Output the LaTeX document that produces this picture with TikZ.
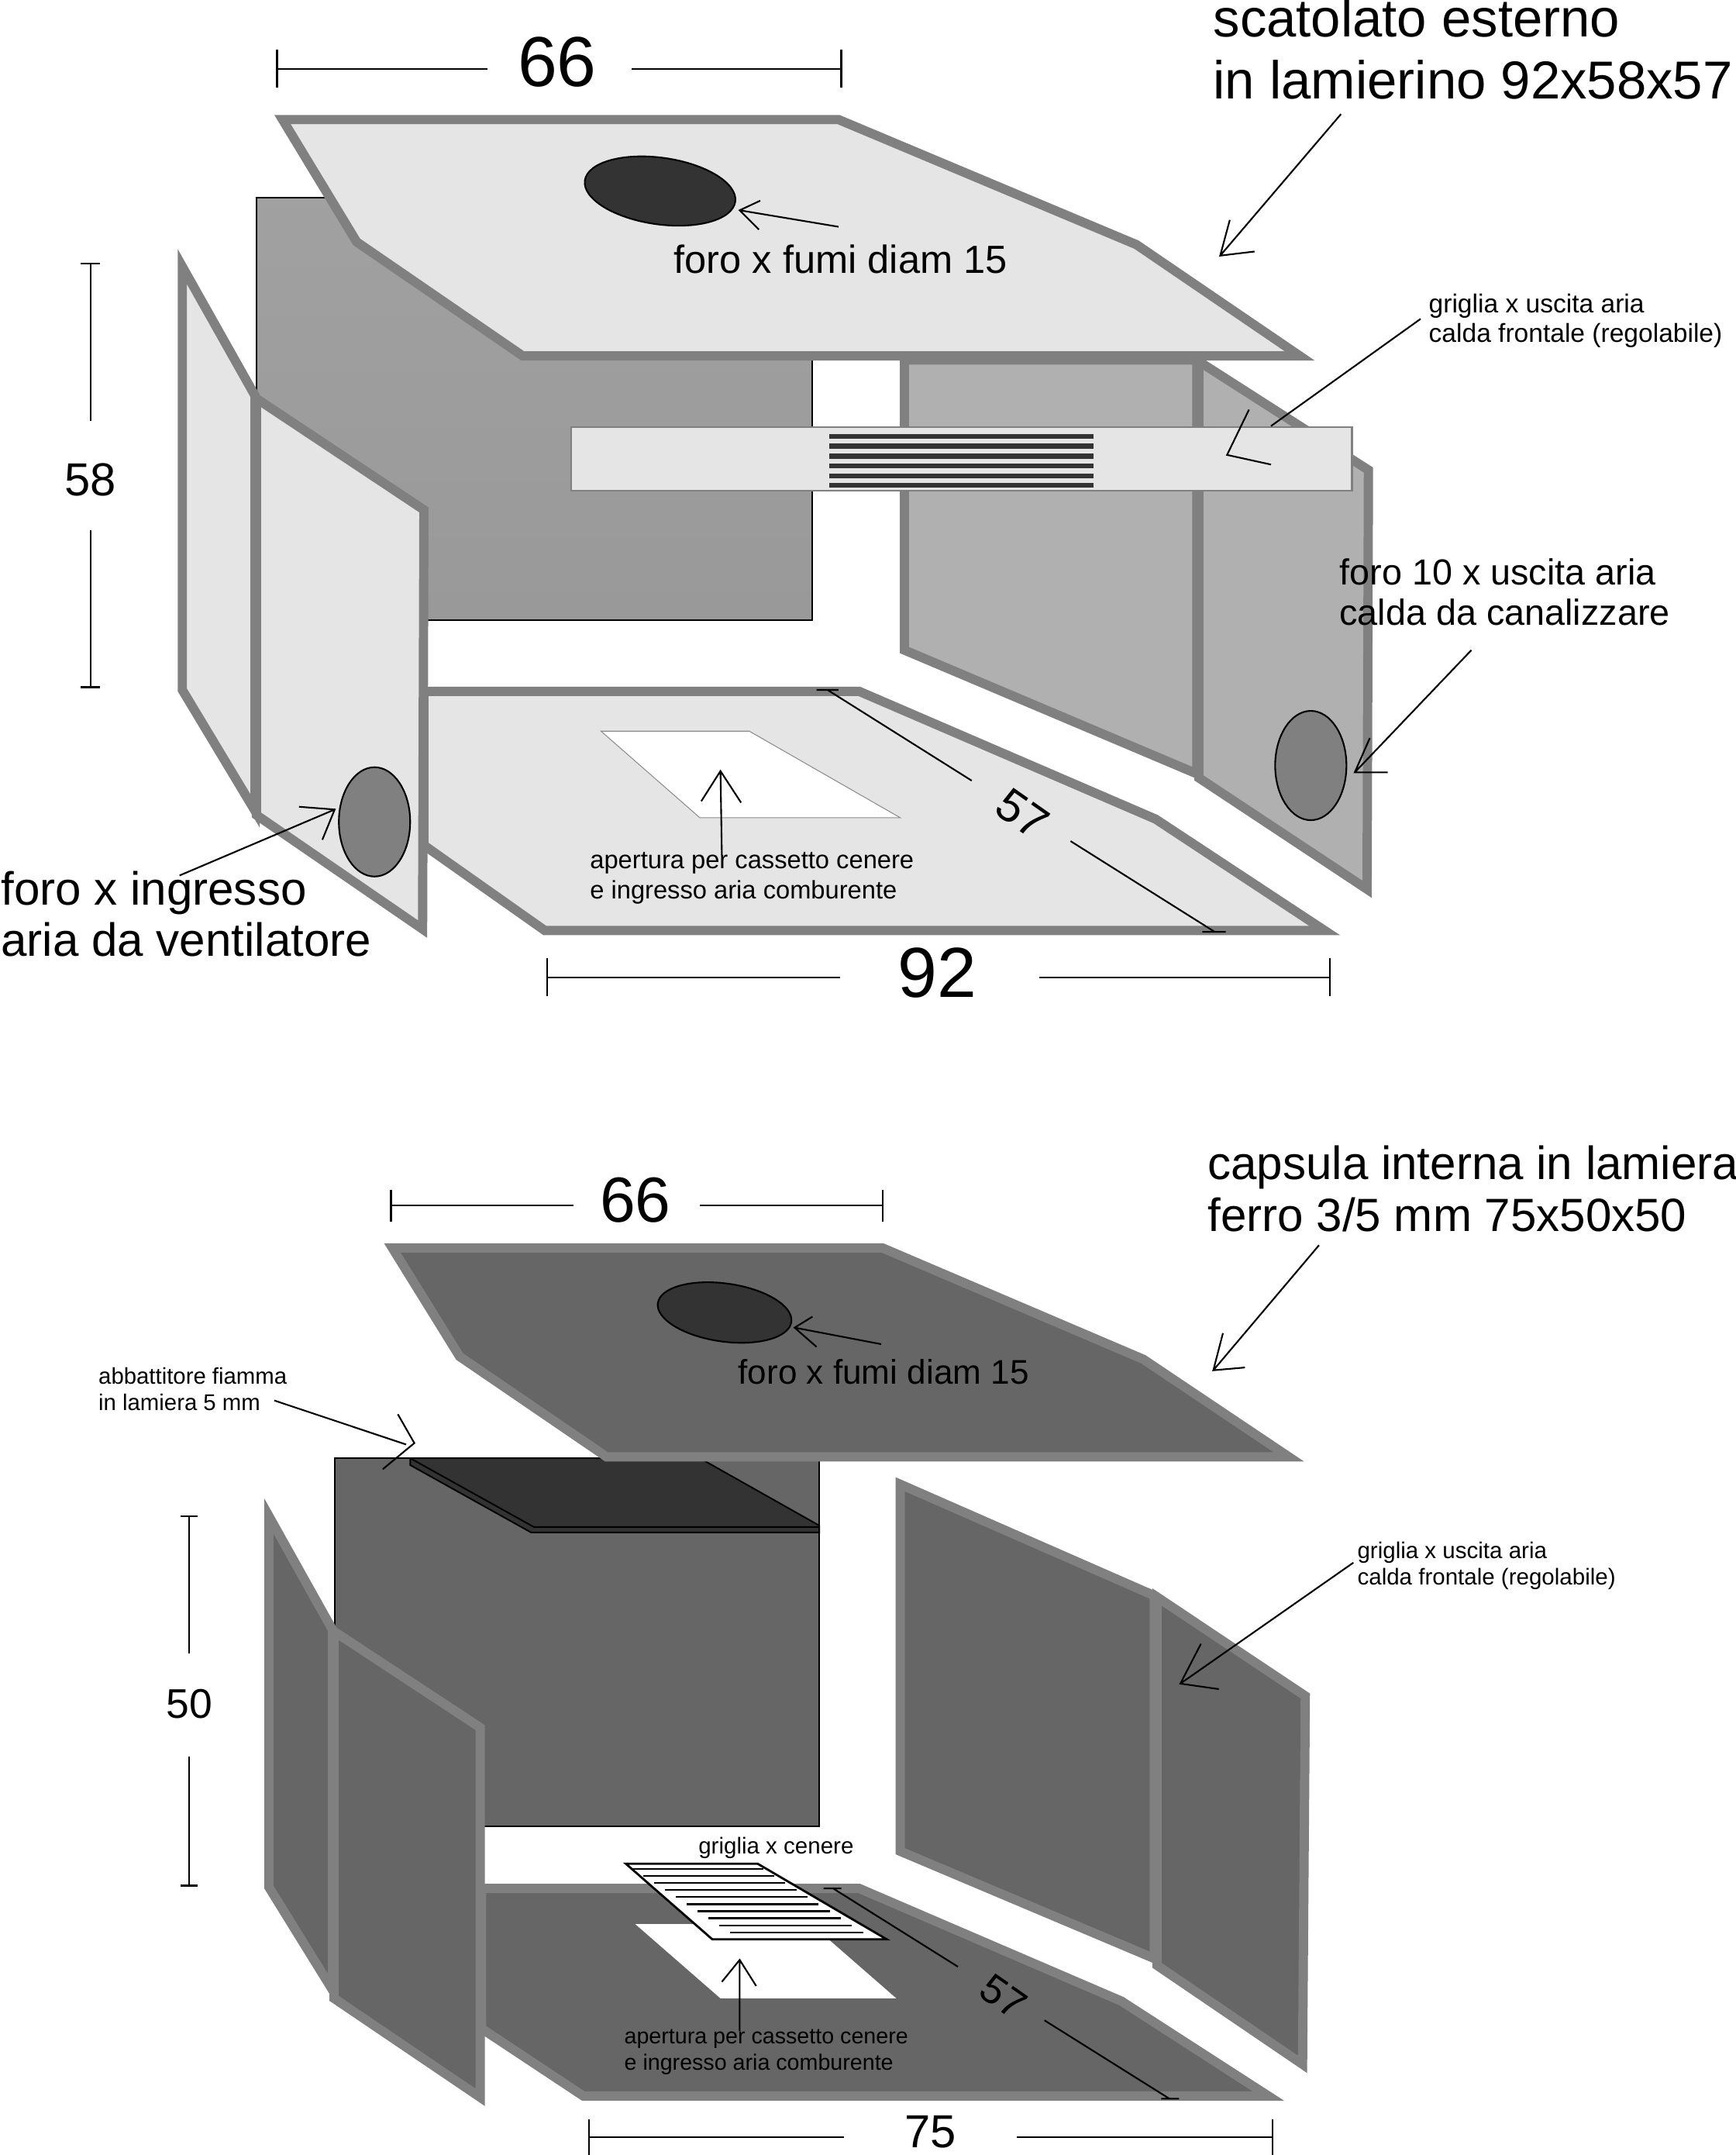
\documentclass[tikz,border=0pt]{standalone}
\usepackage{fontspec}
\setmainfont{Liberation Sans}
\usetikzlibrary{shapes.geometric}
\definecolor{edgegray}{HTML}{808080}
\definecolor{lightface}{HTML}{E5E5E5}
\definecolor{midface}{HTML}{B0B0B0}
\definecolor{darkface}{HTML}{666666}
\definecolor{holedark}{HTML}{333333}
\newcommand{\sz}[2]{\fontsize{#1}{#2}\selectfont}
\tikzset{
  panel/.style={draw=edgegray,line width=3.4pt,miter limit=10,line join=miter},
  lightpanel/.style={panel,fill=lightface},
  midpanel/.style={panel,fill=midface},
  darkpanel/.style={panel,fill=darkface},
  thin line/.style={draw=black,line width=0.55pt},
  leader/.style={draw=black,line width=0.6pt},
  dimline/.style={draw=black,line width=0.6pt},
  lbl/.style={inner sep=0pt,outer sep=0pt,anchor=base west,align=left,text=black},
  dimtext/.style={inner sep=0pt,outer sep=0pt,anchor=center,text=black},
  hole/.style={draw=black,line width=0.6pt,ellipse,inner sep=0pt},
}
\begin{document}
\begin{tikzpicture}[x=0.017722cm,y=-0.017729cm]
\useasboundingbox (-0.8,0) rectangle (1263.2,1568);
% ---- upper box ----
\draw[thin line,top color=black!37,bottom color=black!40] (186,144) rectangle (591,451);
\draw[midpanel] (658,262) -- (871,262) -- (871,563) -- (658,473) -- cycle;
\draw[midpanel] (872.5,263) -- (996,342) -- (995,647) -- (872.5,566) -- cycle;
\draw[lightpanel] (308,503) -- (625,503) -- (841,596) -- (964,677) -- (396,677) -- (308,615) -- cycle;
\fill[white,draw=black!45,line width=0.3pt] (437,532) -- (545,532) -- (655,595) -- (509,595) -- cycle;
\draw[lightpanel] (132,194) -- (185,288) -- (185,590) -- (132,502) -- cycle;
\draw[lightpanel] (186,290) -- (308,371) -- (307,676) -- (186,593) -- cycle;
\draw[lightpanel] (205,87) -- (610,87) -- (827,178) -- (946,259) -- (380,259) -- (259,176) -- cycle;
\draw[draw=edgegray,line width=0.6pt,fill=lightface] (415,311) rectangle (984,357);
\foreach \yy in {317.5,324.7,331.9,339.1,346.3,353.0}
  \fill[holedark] (603,\yy-1.8) rectangle (796,\yy+1.8);
\node[hole,fill=holedark,rotate=-8,minimum width=19.6mm,minimum height=8.6mm] (hole1) at (480,139) {};
\node[hole,fill=edgegray,minimum width=9.2mm,minimum height=14.1mm] (hole2) at (272,598) {};
\node[hole,fill=edgegray,minimum width=9.2mm,minimum height=14.1mm] (hole3) at (954,557) {};
% dims
\draw[dimline] (201,36) -- (201,64) (201,50) -- (354,50) (459,50) -- (612,50) (612,36) -- (612,64);
\node[dimtext,font=\sz{26}{30}] (d66a) at (405,45) {66};
\draw[dimline] (58,192) -- (72,192) (65,192) -- (65,306) (65,386) -- (65,500) (58,500) -- (72,500);
\node[dimtext,font=\sz{17}{21}] (d58) at (65,349) {58};
\draw[dimline] (398,697) -- (398,725) (398,711) -- (611,711) (756,711) -- (968,711) (968,697) -- (968,725);
\node[dimtext,font=\sz{26}{30}] (d92) at (682,708) {92};
\draw[dimline] (594,502) -- (610,502) (602,502) -- (707,568) (779,612) -- (884,678) (875,678) -- (892,678);
\node[dimtext,font=\sz{17}{21},rotate=-35] (d57a) at (744,592) {57};
% labels
\node[lbl,font=\sz{19.6}{22.7}] (t1) at (883,72) {scatolato esterno\\in lamierino 92x58x57};
\draw[leader] (976,83) -- (888,186) (895,160) -- (888,186) -- (913,183);
\node[lbl,font=\sz{14.4}{18}] (t2) at (490,199) {foro x fumi diam 15};
\draw[leader] (610,165) -- (538,153) (553,146) -- (538,153) -- (552,167);
\node[lbl,font=\sz{9.55}{10.8}] (t3) at (1040,249) {griglia x uscita aria\\calda frontale (regolabile)};
\draw[leader] (1034,232) -- (925,310) (909,298) -- (893,331) -- (925,338);
\node[lbl,font=\sz{13.3}{14.8}] (t4) at (975,455) {foro 10 x uscita aria\\calda da canalizzare};
\draw[leader] (1071,473) -- (986,562) (997,537) -- (986,562) -- (1010,562);
\node[lbl,font=\sz{17.1}{18.8}] (t5) at (0,696) {foro x ingresso\\aria da ventilatore};
\draw[leader] (130,637) -- (243,589) (217,587) -- (243,589) -- (234,611);
\node[lbl,font=\sz{9.3}{11}] (t6) at (429,654) {apertura per cassetto cenere\\e ingresso aria comburente};
\draw[leader] (525,622) -- (524,561) (510,583) -- (524,561) -- (539,584);
% ---- lower box ----
\draw[thin line,fill=darkface] (243,1061) rectangle (596,1329);
\draw[thin line,fill=holedark] (298,1061) -- (298,1066) -- (386,1115) -- (596,1115) -- (596,1110) -- (509,1061) -- cycle;
\draw[thin line] (298,1061) -- (388,1111) -- (596,1111);
\draw[darkpanel] (655,1080) -- (840,1161) -- (840,1425) -- (655,1347) -- cycle;
\draw[darkpanel] (842,1162) -- (950,1234) -- (948,1502) -- (842,1430) -- cycle;
\draw[darkpanel] (350,1374) -- (625,1374) -- (816,1456) -- (923,1525) -- (424,1525) -- (350,1476) -- cycle;
\fill[white] (462,1400) -- (590,1400) -- (652,1454) -- (524,1454) -- cycle;
\draw[darkpanel] (195,1103) -- (241.5,1186) -- (241.5,1448) -- (195,1373) -- cycle;
\draw[darkpanel] (242.5,1187) -- (349,1257) -- (349,1526) -- (242.5,1454) -- cycle;
\draw[darkpanel] (285,908) -- (642,908) -- (832,989) -- (938,1060) -- (441,1060) -- (334,987) -- cycle;
\node[hole,fill=holedark,rotate=-8,minimum width=17.4mm,minimum height=7.5mm] (hole4) at (527,955) {};
% ash grid
\draw[draw=black,line width=0.8pt,fill=white] (455,1356) -- (551,1356) -- (645,1411) -- (518,1411) -- cycle;
\foreach \ii in {0,...,9}
  \draw[draw=black,line width=0.6pt] ({460+\ii*7.9},{1360+\ii*5.1}) -- ({555+\ii*8.1},{1360+\ii*5.1});
% dims
\draw[dimline] (284,866) -- (284,889) (284,877) -- (417,877) (509,877) -- (642,877) (642,866) -- (642,889);
\node[dimtext,font=\sz{23.4}{27}] (d66b) at (462,873) {66};
\draw[dimline] (131,1103) -- (143,1103) (137,1103) -- (137,1203) (137,1278) -- (137,1372) (131,1372) -- (143,1372);
\node[dimtext,font=\sz{15.2}{19}] (d50) at (137,1240) {50};
\draw[dimline] (428,1542) -- (428,1568) (428,1555) -- (614,1555) (740,1555) -- (926,1555) (926,1542) -- (926,1568);
\node[dimtext,font=\sz{17}{20}] (d75) at (677,1551) {75};
\draw[dimline] (599,1374) -- (612,1374) (606,1374) -- (697,1431) (760,1470) -- (851,1527) (845,1527) -- (858,1527);
\node[dimtext,font=\sz{15}{19},rotate=-35] (d57b) at (730,1453) {57};
% labels
\node[lbl,font=\sz{17.1}{19}] (t7) at (879,896) {capsula interna in lamiera\\ferro 3/5 mm 75x50x50};
\draw[leader] (960,906) -- (883,997) (890,970) -- (883,997) -- (906,995);
\node[lbl,font=\sz{12.55}{14}] (t8) at (537,1007) {foro x fumi diam 15};
\draw[leader] (641,978) -- (578,966) (591,958) -- (578,966) -- (594,980);
\node[lbl,font=\sz{8.35}{9.6}] (t9) at (71,1026) {abbattitore fiamma\\in lamiera 5 mm};
\draw[leader] (199,1019) -- (295,1051) (289,1029) -- (301,1050) -- (278,1069);
\node[lbl,font=\sz{8.4}{9.6}] (t10) at (988,1153) {griglia x uscita aria\\calda frontale (regolabile)};
\draw[leader] (985,1137) -- (859,1225) (874,1196) -- (859,1225) -- (887,1229);
\node[lbl,font=\sz{8.4}{10}] (t11) at (508,1349) {griglia x cenere};
\node[lbl,font=\sz{8.15}{9.6}] (t12) at (454,1506) {apertura per cassetto cenere\\e ingresso aria comburente};
\draw[leader] (538,1478) -- (538,1426) (525,1442) -- (538,1426) -- (550,1445);
\end{tikzpicture}
\end{document}
